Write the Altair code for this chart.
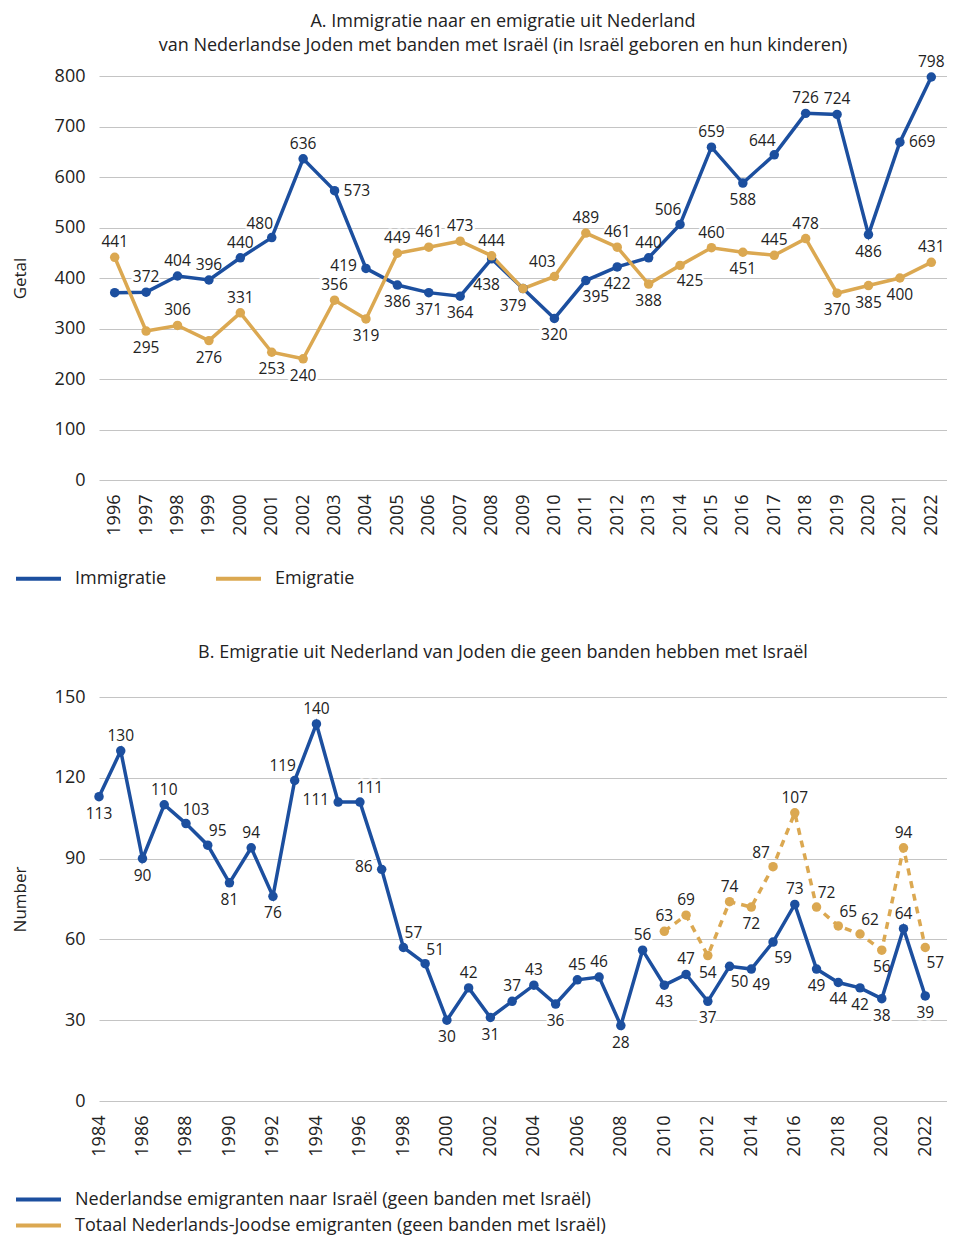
import altair as alt
import pandas as pd

# ---------------- data ----------------
years_a = list(range(1996, 2023))
immigratie = [371, 372, 404, 396, 440, 480, 636, 573, 419, 386, 371, 364, 438, 379,
              320, 395, 422, 440, 506, 659, 588, 644, 726, 724, 486, 669, 798]
emigratie = [441, 295, 306, 276, 331, 253, 240, 356, 319, 449, 461, 473, 444, 379,
             403, 489, 461, 388, 425, 460, 451, 445, 478, 370, 385, 400, 431]
imm_pos = ["", "t", "t", "t", "t", "tl", "t", "r", "l", "b", "b", "b", "bb", "bl",
           "b", "br", "b", "t", "tl", "t", "b", "tl", "t", "t", "b", "r", "t"]
emi_pos = ["t", "b", "t", "b", "t", "b", "b", "t", "b", "t", "t", "t", "t", "",
           "tl", "t", "t", "b", "br", "t", "b", "t", "t", "b", "b", "b", "t"]

years_b = list(range(1984, 2023))
nl_israel = [113, 130, 90, 110, 103, 95, 81, 94, 76, 119, 140, 111, 111, 86, 57, 51,
             30, 42, 31, 37, 43, 36, 45, 46, 28, 56, 43, 47, 37, 50, 49, 59, 73, 49,
             44, 42, 38, 64, 39]
nl_pos = ["b", "t", "b", "t", "tr", "tr", "b", "t", "b", "tl", "t", "l", "tr", "l",
          "tr", "tr", "b", "t", "b", "t", "t", "b", "t", "t", "b", "t", "b", "t",
          "b", "br", "br", "br", "t", "b", "b", "b", "b", "t", "b"]
years_tot = list(range(2010, 2023))
totaal = [63, 69, 54, 74, 72, 87, 107, 72, 65, 62, 56, 94, 57]
tot_pos = ["t", "t", "b", "t", "b", "tl", "t", "tr", "tr", "tr", "b", "t", "br"]

ser_a = ["Immigratie", "Emigratie"]
ser_b = ["Nederlandse emigranten naar Israël (geen banden met Israël)",
         "Totaal Nederlands-Joodse emigranten (geen banden met Israël)"]

title_a = ["A. Immigratie naar en emigratie uit Nederland",
           "van Nederlandse Joden met banden met Israël (in Israël geboren en hun kinderen)"]
title_b = "B. Emigratie uit Nederland van Joden die geen banden hebben met Israël"

# ---------------- styling ----------------
FONT = "Open Sans"
BLUE = "#1c4f9f"
GOLD = "#dba851"
TXT = "#222222"
W, H = 848, 404

OFFS = {
    "t": (0, -15, "center"),
    "b": (0, 17, "center"),
    "bb": (-5, 26, "center"),
    "l": (-9, -2, "right"),
    "r": (9, 0, "left"),
    "tl": (-12, -14, "center"),
    "tr": (10, -14, "center"),
    "bl": (-10, 17, "center"),
    "br": (10, 16, "center"),
}

df_a = pd.concat([
    pd.DataFrame({"year": years_a, "value": immigratie, "series": ser_a[0], "pos": imm_pos}),
    pd.DataFrame({"year": years_a, "value": emigratie, "series": ser_a[1], "pos": emi_pos}),
])
df_b1 = pd.DataFrame({"year": years_b, "value": nl_israel, "series": ser_b[0], "pos": nl_pos})
df_b2 = pd.DataFrame({"year": years_tot, "value": totaal, "series": ser_b[1], "pos": tot_pos})
df_b = pd.concat([df_b1, df_b2])


def label_layers(df, xenc, yenc):
    halos, texts = [], []
    for code, (dx, dy, align) in OFFS.items():
        base = alt.Chart(df).transform_filter(alt.datum.pos == code)
        kw = dict(dx=dx, dy=dy, align=align, baseline="middle", fontSize=15.5, font=FONT)
        halos.append(base.mark_text(stroke="white", strokeWidth=5, strokeJoin="round",
                                    fill="white", **kw)
                     .encode(x=xenc, y=yenc, text=alt.Text("value:Q", format="d")))
        texts.append(base.mark_text(fill=TXT, **kw)
                     .encode(x=xenc, y=yenc, text=alt.Text("value:Q", format="d")))
    return halos, texts


legend_common = dict(orient="none", legendX=-85, title=None,
                     symbolType="stroke", symbolSize=2025, symbolStrokeWidth=4,
                     labelFont=FONT, labelFontSize=18, labelColor=TXT, labelOffset=12,
                     labelLimit=800, padding=0)

# ---------------- panel A ----------------
xa = alt.X("year:Q", scale=alt.Scale(domain=[1995.5, 2022.5], nice=False, zero=False),
           axis=alt.Axis(values=years_a, format="d", labelAngle=270, grid=False,
                         labelPadding=14, title=None, labelOverlap=False))
ya = alt.Y("value:Q", scale=alt.Scale(domain=[0, 800], nice=False),
           axis=alt.Axis(values=list(range(0, 801, 100)), title="Getal",
                         titlePadding=25, labelPadding=14))
col_a = alt.Color("series:N", scale=alt.Scale(domain=ser_a, range=[BLUE, GOLD]),
                  legend=alt.Legend(direction="horizontal", columnPadding=41,
                                    legendY=478, **legend_common))

halos_a, texts_a = label_layers(df_a, xa, ya)
line_a = alt.Chart(df_a).mark_line(
    strokeWidth=3.5, point=alt.OverlayMarkDef(size=90, filled=True, opacity=1)
).encode(x=xa, y=ya, color=col_a, detail="series:N")

panel_a = alt.layer(*halos_a, line_a, *texts_a).properties(
    width=W, height=H,
    title=alt.TitleParams(text=title_a, font=FONT, fontSize=18, fontWeight="normal",
                          color=TXT, anchor="middle", offset=0, lineHeight=24, dx=-20),
)

# ---------------- panel B ----------------
xb = alt.X("year:Q", scale=alt.Scale(domain=[1984, 2023], nice=False, zero=False),
           axis=alt.Axis(values=list(range(1984, 2023, 2)), format="d", labelAngle=270,
                         grid=False, labelPadding=14, title=None, labelOverlap=False))
yb = alt.Y("value:Q", scale=alt.Scale(domain=[0, 150], nice=False),
           axis=alt.Axis(values=[0, 30, 60, 90, 120, 150], title="Number",
                         titlePadding=25, labelPadding=14))
col_b = alt.Color("series:N", scale=alt.Scale(domain=ser_b, range=[BLUE, GOLD]),
                  legend=alt.Legend(direction="vertical", rowPadding=5, clipHeight=21,
                                    legendY=492, **legend_common))

halos_b, texts_b = label_layers(df_b, xb, yb)
line_b1 = alt.Chart(df_b1).mark_line(
    strokeWidth=3.5, point=alt.OverlayMarkDef(size=90, filled=True, opacity=1)
).encode(x=xb, y=yb, color=col_b)
line_b2 = alt.Chart(df_b2).mark_line(
    strokeWidth=3.5, strokeDash=[7, 6],
    point=alt.OverlayMarkDef(size=90, filled=True, opacity=1, strokeDash=[1, 0])
).encode(x=xb, y=yb, color=col_b)

panel_b = alt.layer(*halos_b, line_b1, line_b2, *texts_b).properties(
    width=W, height=H,
    title=alt.TitleParams(text=title_b, font=FONT, fontSize=18, fontWeight="normal",
                          color=TXT, anchor="middle", offset=26, dx=-20),
)

chart = alt.vconcat(panel_a, panel_b, spacing=56).resolve_scale(
    color="independent", x="independent", y="independent"
).resolve_legend(color="independent").properties(
    padding={"left": 3, "top": 5, "right": 0, "bottom": 0}
).configure_view(stroke=None).configure_axis(
    labelFont=FONT, labelFontSize=18, labelColor=TXT, titleFont=FONT,
    titleFontSize=17, titleFontWeight="normal", titleColor=TXT,
    domain=False, ticks=False, gridColor="#c4c4c4", gridWidth=1,
)

chart.save("out.html", embed_options={"renderer": "svg", "actions": False})
